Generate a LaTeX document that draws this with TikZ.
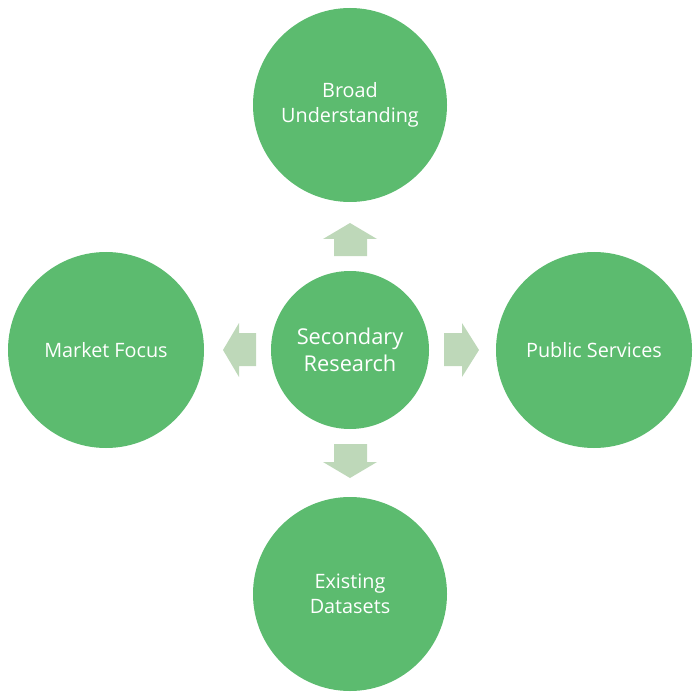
\documentclass[tikz,border=0pt]{standalone}
\usepackage{fontspec}
\setmainfont{Open Sans}
\definecolor{circ}{HTML}{5CBB6F}
\definecolor{arr}{HTML}{BED8B9}
\begin{document}
\begin{tikzpicture}[x=1pt,y=-1pt,
  bubble/.style={circle,fill=circ,draw=none,text=white,align=center,inner sep=0pt,font=\fontsize{19.8}{24.5}\selectfont},
  blockarrow/.style={fill=arr,draw=none}]
\useasboundingbox (0,0) rectangle (700,700);
\node[bubble,minimum size=158,font=\fontsize{21.8}{26.5}\selectfont] (c) at (350,350) {Secondary\\Research};
\node[bubble,minimum size=194] (t) at (350,105) {Broad\\Understanding};
\node[bubble,minimum size=194] (b) at (350,594) {Existing\\Datasets};
\node[bubble,minimum size=196] (l) at (106,350) {Market Focus};
\node[bubble,minimum size=196] (r) at (594,350) {Public Services};
% up
\fill[blockarrow] (334,256) -- (334,239) -- (323,239) -- (350,223) -- (377,239) -- (367,239) -- (367,256) -- cycle;
% down
\fill[blockarrow] (334,444) -- (334,462) -- (323,462) -- (350,478) -- (377,462) -- (367,462) -- (367,444) -- cycle;
% left
\fill[blockarrow] (256,333) -- (239,333) -- (239,323) -- (223,350) -- (239,377) -- (239,366) -- (256,366) -- cycle;
% right
\fill[blockarrow] (444,333) -- (462,333) -- (462,323) -- (479,350) -- (462,377) -- (462,366) -- (444,366) -- cycle;
\end{tikzpicture}
\end{document}
